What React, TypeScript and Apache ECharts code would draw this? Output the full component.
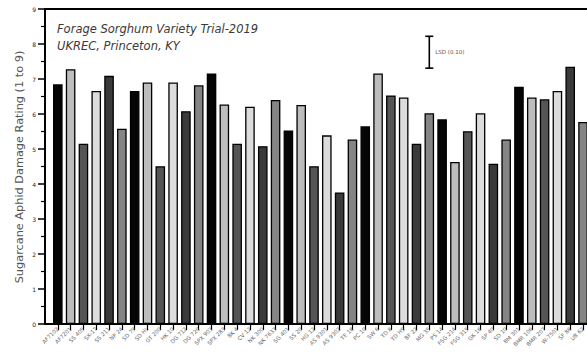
import React, { useEffect, useRef } from "react";
import * as echarts from "echarts";

// Variety entries in plotting order
const varieties = [
  "AF7102", "AF7201", "SS 405", "SX-17", "SS 211", "NP 24",
  "SD 79", "SD HL", "GT 200", "HK 10", "DG 712",
  "DG 720", "SPX 903", "SPX 283", "BK 4", "CV 12",
  "NK 300", "NK 7633", "SG 401", "SS 20", "HG 12",
  "AS 9301", "AS 9302", "TE 18", "PC 10", "SW 6",
  "TD 8", "TD HS", "BF 22", "MG 35", "PS 14",
  "FSG 214", "FSG 315", "GK 16", "SP 40", "SD 10",
  "BM 301", "BMR 106", "BMR 207", "W-7501", "SF 88", "UB 62",
];

// Mean sugarcane aphid damage rating (1 to 9 scale)
const ratings = [
  6.85, 7.28, 5.15, 6.66, 7.09, 5.58, 6.66, 6.9, 4.51, 6.9, 6.08, 6.82,
  7.16, 6.27, 5.15, 6.21, 5.08, 6.4, 5.53, 6.26, 4.51, 5.39, 3.76, 5.27,
  5.65, 7.16, 6.53, 6.47, 5.15, 6.02, 5.85, 4.63, 5.51, 6.02, 4.58, 5.27,
  6.78, 6.47, 6.42, 6.66, 7.35, 5.77,
];

// Rating scale tick labels
const yTicks = [0, 1, 2, 3, 4, 5, 6, 7, 8, 9];

// Fill shades cycle through six tones
const shades = ["#050505", "#bdbdbd", "#555555", "#dcdcdc", "#3a3a3a", "#858585"];

// Least significant difference (0.10) bar, placed at an entry position
const lsdPosition = 30;
const lsdLow = 7.31;
const lsdHigh = 8.22;

const font = "DejaVu Sans, Verdana, sans-serif";

export default function App() {
  const ref = useRef<HTMLDivElement>(null);

  useEffect(() => {
    if (!ref.current) return;
    const chart = echarts.init(ref.current, undefined, { renderer: "svg" });
    const positions = varieties.map((_, i) => i + 1);

    chart.setOption({
      animation: false,
      title: {
        text: "Forage Sorghum Variety Trial-2019\nUKREC, Princeton, KY",
        left: 57,
        top: 20,
        padding: 0,
        textStyle: {
          fontFamily: font,
          fontStyle: "italic",
          fontWeight: "normal",
          fontSize: 11.5,
          lineHeight: 17,
          color: "#3a3a3a",
        },
      },
      graphic: [
        {
          type: "text",
          x: 19,
          y: 167,
          rotation: Math.PI / 2,
          style: {
            text: "Sugarcane Aphid Damage Rating (1 to 9)",
            fontSize: 11.3,
            fill: "#555",
            fontFamily: font,
            align: "center",
            verticalAlign: "middle",
          },
        },
      ],
      grid: {
        left: 45,
        top: 9,
        height: 315,
        width: 43 * 12.81,
        show: true,
        borderColor: "#000",
        borderWidth: 2,
        containLabel: false,
        outerBoundsMode: "none",
      },
      xAxis: {
        type: "value",
        min: 0,
        max: 43,
        interval: 1,
        splitLine: { show: false },
        axisLine: { show: true, lineStyle: { color: "#000", width: 2 } },
        axisTick: {
          show: true,
          length: 6,
          lineStyle: { color: "#000", width: 1.2 },
          customValues: positions,
        },
        axisLabel: {
          customValues: positions,
          rotate: 45,
          fontSize: 5.5,
          color: "#666",
          margin: 4,
          fontFamily: font,
          formatter: (v: number) => varieties[Math.round(v) - 1] ?? "",
        },
      },
      yAxis: {
        type: "value",
        min: 0,
        max: 9,
        interval: 1,
        splitLine: { show: false },
        axisLine: { show: true, lineStyle: { color: "#000", width: 2 } },
        axisTick: { show: true, length: 7, lineStyle: { color: "#000", width: 1.5 } },
        minorTick: { show: true, splitNumber: 2, length: 4, lineStyle: { color: "#000", width: 1.2 } },
        axisLabel: { show: false },
      },
      series: [
        {
          type: "bar",
          barWidth: 9.6,
          data: ratings.map((r, i) => ({
            value: [i + 1, r],
            itemStyle: { color: shades[i % shades.length] },
          })),
          itemStyle: { borderColor: "#000", borderWidth: 1.3 },
        },
        {
          // rating-scale numbers beside the major ticks
          type: "custom",
          clip: false,
          silent: true,
          data: yTicks.map((t) => [0, t]),
          renderItem: (params: any, api: any) => {
            const p = api.coord([api.value(0), api.value(1)]);
            return {
              type: "text",
              x: p[0] - 9,
              y: p[1],
              style: {
                text: String(api.value(1)),
                fontSize: 6,
                fill: "#222",
                align: "right",
                verticalAlign: "middle",
                fontFamily: font,
              },
            };
          },
        },
        {
          type: "custom",
          data: [[lsdPosition, lsdLow, lsdHigh]],
          renderItem: (params: any, api: any) => {
            const x = api.value(0);
            const lo = api.coord([x, api.value(1)]);
            const hi = api.coord([x, api.value(2)]);
            const cap = 4;
            const line = { stroke: "#000", lineWidth: 1.6 };
            return {
              type: "group",
              children: [
                { type: "line", shape: { x1: lo[0], y1: lo[1], x2: hi[0], y2: hi[1] }, style: line },
                { type: "line", shape: { x1: lo[0] - cap, y1: lo[1], x2: lo[0] + cap, y2: lo[1] }, style: line },
                { type: "line", shape: { x1: hi[0] - cap, y1: hi[1], x2: hi[0] + cap, y2: hi[1] }, style: line },
                {
                  type: "text",
                  x: hi[0] + 6,
                  y: (lo[1] + hi[1]) / 2,
                  style: {
                    text: "LSD (0.10)",
                    fontSize: 5.5,
                    fill: "#555",
                    verticalAlign: "middle",
                    fontFamily: font,
                  },
                },
              ],
            };
          },
        },
      ],
    });

    return () => chart.dispose();
  }, []);

  return (
    <div
      ref={ref}
      style={{ position: "fixed", left: 0, top: 0, width: 587, height: 353, background: "#fff" }}
    />
  );
}
